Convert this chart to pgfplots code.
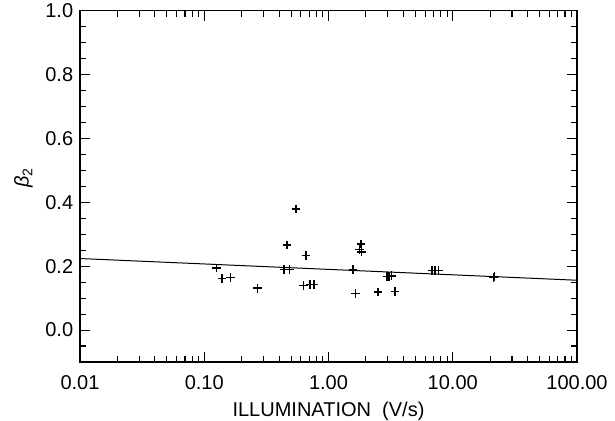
\documentclass[border=0pt]{standalone}
\usepackage{fontspec}
\setmainfont{Liberation Sans}
\usepackage{pgfplots}
\pgfplotsset{compat=1.18}
\begin{document}
\fontsize{20bp}{24bp}\selectfont
\begin{tikzpicture}
\begin{axis}[
  scale only axis, width=497bp, height=351.3bp,
  xmode=log, xmin=0.01, xmax=100, ymin=-0.1, ymax=1.0,
  xtick={0.01,0.1,1,10,100}, xticklabels={0.01,0.10,1.00,10.00,100.00},
  ytick={0,0.2,0.4,0.6,0.8,1.0}, yticklabels={0.0,0.2,0.4,0.6,0.8,1.0},
  minor ytick={-0.05,0.05,0.1,0.15,0.25,0.3,0.35,0.45,0.5,0.55,0.65,0.7,0.75,0.85,0.9,0.95},
  tick align=inside, tick pos=both,
  major tick length=10bp, minor tick length=6bp,
  axis line style={line width=1.6bp},
  every tick/.style={black, line width=1.1bp},
  xticklabel style={yshift=-7bp},
  /pgf/number format/assume math mode=true,
  xlabel={ILLUMINATION\ \ (V/s)},
  ylabel={\textit{β}\raisebox{-0.35ex}{\fontsize{14bp}{14bp}\selectfont 2}},
  xlabel style={yshift=2bp},
  ylabel style={yshift=-1bp, xshift=8bp},
]
\addplot[black, line width=1bp] coordinates {(0.01,0.224) (100,0.156)};
\addplot[only marks, mark=+, mark size=4.3bp, mark options={line width=1.5bp, black}] coordinates {
(0.126,0.194) (0.139,0.162) (0.163,0.165) (0.268,0.131)
(0.462,0.266) (0.439,0.190) (0.484,0.190) (0.548,0.379)
(0.660,0.233) (0.628,0.140) (0.711,0.142) (0.766,0.142)
(1.569,0.190) (1.647,0.115) (1.820,0.269) (1.774,0.253) (1.840,0.244)
(2.508,0.119) (2.95,0.167) (3.08,0.168) (3.20,0.170) (3.42,0.120)
(6.79,0.186) (7.22,0.186) (7.67,0.186)
(21.27,0.165) (21.66,0.167)
};
\end{axis}
\pgfresetboundingbox
\useasboundingbox ([xshift=-80bp,yshift=-59bp]current axis.south west) rectangle ([xshift=38bp,yshift=10.7bp]current axis.north east);
\end{tikzpicture}
\end{document}
